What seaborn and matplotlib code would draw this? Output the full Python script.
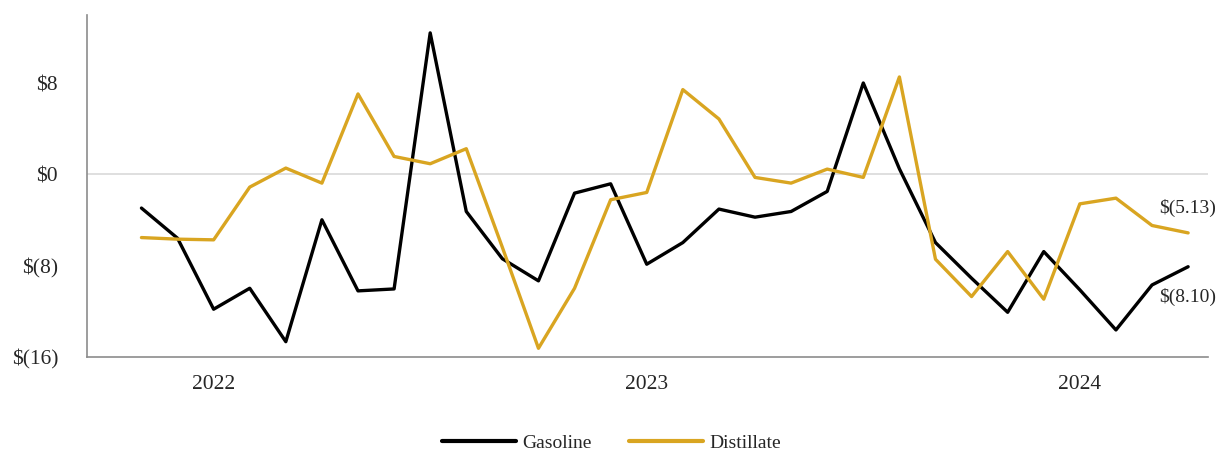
import numpy as np
import pandas as pd
import matplotlib
matplotlib.use("Agg")
import matplotlib.pyplot as plt
from matplotlib.lines import Line2D
import seaborn as sns

# Monthly crack-spread change, Nov 2021 - Apr 2024 ($ per barrel)
months = pd.date_range("2021-11-01", periods=30, freq="MS")
gasoline = [-2.95, -5.6, -11.83, -9.99, -14.68, -3.98, -10.22, -10.05, 12.43, -3.25,
            -7.4, -9.34, -1.64, -0.82, -7.88, -5.98, -3.04, -3.75, -3.25, -1.49,
            8.03, 0.5, -5.98, -9.11, -12.1, -6.77, -10.13, -13.65, -9.70, -8.10]
distillate = [-5.54, -5.68, -5.74, -1.11, 0.56, -0.76, 7.07, 1.58, 0.94, 2.26,
              -6.4, -15.26, -9.99, -2.22, -1.58, 7.45, 4.87, -0.26, -0.76, 0.47,
              -0.26, 8.56, -7.44, -10.72, -6.77, -10.95, -2.58, -2.08, -4.48, -5.13]
series_names = ["Gasoline", "Distillate"]
series_colors = ["#000000", "#D9A521"]
y_ticks = [-16, -8, 0, 8]
y_tick_labels = ["$(16)", "$(8)", "$0", "$8"]

pos = np.arange(len(months))
df = pd.DataFrame({
    "pos": np.concatenate([pos, pos]),
    "value": gasoline + distillate,
    "product": [series_names[0]] * len(pos) + [series_names[1]] * len(pos),
})

sns.set_style("white")
plt.rcParams["font.family"] = ["Liberation Serif", "DejaVu Serif"]

fig = plt.figure(figsize=(12.16, 4.5), dpi=100)
ax = fig.add_axes([0.0718, 0.2073, 0.9216, 0.7594])

sns.lineplot(data=df, x="pos", y="value", hue="product",
             palette=dict(zip(series_names, series_colors)),
             linewidth=2.4, ax=ax, legend=False)

ax.axhline(0, color="#d9d9d9", linewidth=1.2, zorder=0)

ax.set_xlim(-1.5, len(pos) - 1 + 0.55)
ax.set_ylim(-16, 14)
ax.set_yticks(y_ticks)
ax.set_yticklabels(y_tick_labels)
year_pos = [p for p, m in zip(pos, months) if m.month == 1]
ax.set_xticks(year_pos)
ax.set_xticklabels([str(months[p].year) for p in year_pos])
ax.tick_params(axis="y", length=0, pad=21, labelsize=15.5)
ax.tick_params(axis="x", length=0, pad=13, labelsize=15.5)
ax.set_xlabel("")
ax.set_ylabel("")

for side in ["top", "right"]:
    ax.spines[side].set_visible(False)
for side in ["left", "bottom"]:
    ax.spines[side].set_color("#8c8c8c")
    ax.spines[side].set_linewidth(1.2)

# End-of-period value labels
ax.annotate(f"$({abs(distillate[-1]):.2f})", xy=(pos[-1], distillate[-1]),
            xytext=(-21, 18), textcoords="offset points",
            ha="left", va="center", fontsize=14)
ax.annotate(f"$({abs(gasoline[-1]):.2f})", xy=(pos[-1], gasoline[-1]),
            xytext=(-21, -21.5), textcoords="offset points",
            ha="left", va="center", fontsize=14)

handles = [Line2D([], [], color=c, linewidth=3) for c in series_colors]
fig.legend(handles, series_names, loc="lower center", bbox_to_anchor=(0.503, -0.043),
           ncol=2, frameon=False, fontsize=14, handlelength=3.8,
           handletextpad=0.35, columnspacing=1.9)

fig.savefig("out.png", dpi=100)
